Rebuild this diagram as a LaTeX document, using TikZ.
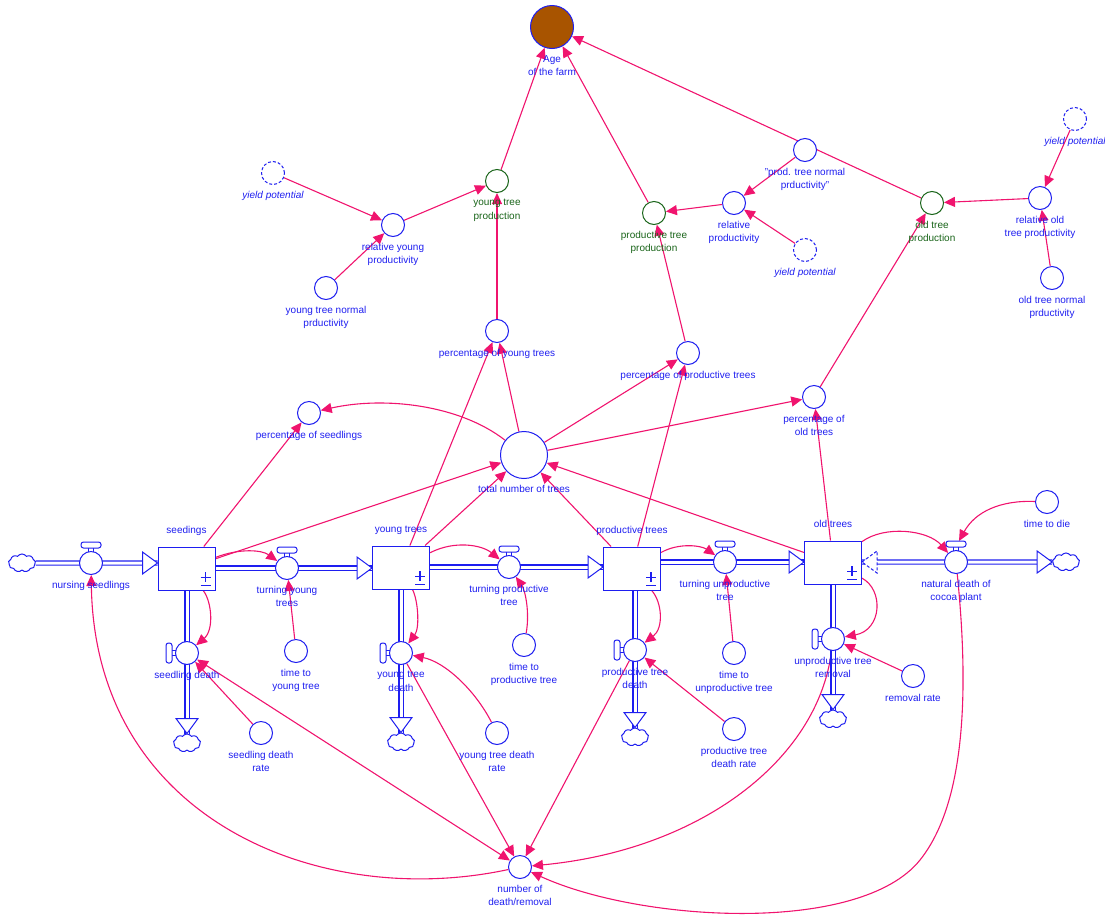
\documentclass[tikz,border=0pt]{standalone}
\usepackage{fontspec}
\setmainfont{Liberation Sans}
\usetikzlibrary{arrows.meta,shapes.symbols}

\definecolor{sfblue}{RGB}{30,30,240}
\definecolor{sfpink}{RGB}{240,20,110}
\definecolor{sfgreen}{RGB}{25,100,25}
\definecolor{sfbrown}{RGB}{168,84,0}

\pgfdeclarelayer{links}
\pgfdeclarelayer{pipes}
\pgfsetlayers{links,pipes,main}

\newcommand\labfont{\fontsize{10}{13.5}\selectfont}

\tikzset{
  lab/.style={font=\labfont, text=sfblue, align=center, inner sep=2pt},
  tag/.style={label={[lab, label distance=4pt]below:#1}},
  gtag/.style={label={[lab, text=sfgreen, label distance=4pt]below:#1}},
  itag/.style={label={[lab, font=\labfont\itshape, label distance=4pt]below:#1}},
  aux/.style={circle, draw=sfblue, line width=1pt, fill=white,
    minimum size=23pt, inner sep=0pt},
  prodaux/.style={aux, draw=sfgreen},
  ghost/.style={aux, dash pattern=on 3pt off 2pt},
  valve/.style={aux},
  stock/.style={rectangle, draw=sfblue, line width=1pt, fill=white,
    minimum width=57pt, minimum height=43pt, inner sep=0pt,
    label={[lab, text depth=2pt, label distance=8.4pt]above:#1}},
  sink/.style={cloud, cloud puffs=9, cloud puff arc=110, aspect=1.6,
    draw=sfblue, line width=1pt, fill=white,
    minimum width=27pt, minimum height=18pt, inner sep=0pt},
  pipe/.style={draw=sfblue, line width=1.1pt, double=white, double distance=3pt},
  conn/.style={draw=sfpink, line width=1.1pt, -{Triangle[length=11pt,width=10pt]}},
  conn2/.style={conn, {Triangle[length=11pt,width=10pt]}-{Triangle[length=11pt,width=10pt]}},
  flowtip/.pic={\draw[sfblue, line width=1pt, fill=white]
    (0,0) -- (-15,-11) -- (-15,11) -- cycle;},
  backtip/.pic={\draw[sfblue, line width=1pt, fill=white, dash pattern=on 3pt off 2pt]
    (0,0) -- (15,-11) -- (15,11) -- cycle;},
  pmsign/.pic={\draw[sfblue, line width=1.1pt]
    (-15,-13.3) -- (-5,-13.3) (-10,-18.3) -- (-10,-8.3) (-15,-5) -- (-5,-5);},
  handletop/.pic={
    \draw[sfblue, line width=1pt] (-2.5,-11.5) -- (-2.5,-15) (2.5,-11.5) -- (2.5,-15);
    \draw[sfblue, line width=1pt, fill=white, rounded corners=2.5pt] (-10,-21) rectangle (10,-15);},
  handleleft/.pic={
    \draw[sfblue, line width=1pt] (-11.5,-2.5) -- (-15,-2.5) (-11.5,2.5) -- (-15,2.5);
    \draw[sfblue, line width=1pt, fill=white, rounded corners=2.5pt] (-21,-10) rectangle (-15,10);},
}

\begin{document}
\begin{tikzpicture}[x=1pt, y=-1pt]
\useasboundingbox (0,0) rectangle (1105,916);

% ---------- stocks ----------
\node[stock=seedings] (seedst) at (186.5,568.5) {};
\node[stock=young trees] (youngst) at (401,567.5) {};
\node[stock=productive trees] (prodst) at (632,568.5) {};
\node[stock=old trees] (oldst) at (833,562.5) {};
\foreach \s in {seedst,youngst,prodst,oldst} \pic at (\s.south east) {pmsign};

% ---------- sources and sinks ----------
\node[sink] (srcL) at (22,563) {};
\node[sink] (sinkS) at (187,743) {};
\node[sink] (sinkY) at (401,742) {};
\node[sink] (sinkP) at (635,737) {};
\node[sink] (sinkO) at (833,719) {};
\node[sink] (sinkN) at (1066,562) {};

% ---------- flow valves ----------
\node[valve, tag={nursing seedlings}] (nurs) at (91,563) {};
\node[valve, tag={turning young\\trees}] (tyt) at (287,568) {};
\node[valve, tag={turning productive\\tree}] (tpt) at (509,567) {};
\node[valve, tag={turning unproductive\\tree}] (tut) at (725,562) {};
\node[valve, tag={natural death of\\cocoa plant}] (ndeath) at (956,562) {};
\node[valve, tag={seedling death}] (sdeath) at (187,653) {};
\node[valve, tag={young tree\\death}] (ydeath) at (401,653) {};
\node[valve, tag={productive tree\\death}] (pdeath) at (635,650) {};
\node[valve, tag={unproductive tree\\removal}] (urem) at (833,639) {};

% ---------- flow parameters ----------
\node[aux, tag={time to\\young tree}] (tyttime) at (296,651) {};
\node[aux, tag={seedling death\\rate}] (sdrate) at (261,733) {};
\node[aux, tag={time to\\productive tree}] (tpttime) at (524,645) {};
\node[aux, tag={young tree death\\rate}] (ydrate) at (497,733) {};
\node[aux, tag={time to\\unproductive tree}] (tuttime) at (734,653) {};
\node[aux, tag={productive tree\\death rate}] (pdrate) at (734,729) {};
\node[aux, tag={removal rate}] (remrate) at (913,676) {};
\node[aux, tag={time to die}] (timedie) at (1047,502) {};
\node[aux, tag={number of\\death/removal}] (num) at (520,867) {};

% ---------- tree shares ----------
\node[aux, minimum size=47pt, tag={total number of trees}] (total) at (524,455) {};
\node[aux, tag={percentage of seedlings}] (pcts) at (309,413) {};
\node[aux, tag={percentage of young trees}] (pcty) at (497,331) {};
\node[aux, tag={percentage of productive trees}] (pctp) at (688,353) {};
\node[aux, tag={percentage of\\old trees}] (pcto) at (814,397) {};

% ---------- production ----------
\node[prodaux, gtag={young tree\\production}] (ytp) at (497,181) {};
\node[prodaux, gtag={productive tree\\production}] (ptp) at (654,213) {};
\node[prodaux, gtag={old tree\\production}] (otp) at (932,203) {};
\node[aux, tag={relative young\\productivity}] (rely) at (393,225) {};
\node[aux, tag={young tree normal\\prductivity}] (ytn) at (326,288) {};
\node[ghost, itag={yield potential}] (ypL) at (273,173) {};
\node[aux, tag={relative\\productivity}] (relp) at (734,203) {};
\node[aux, tag={"prod. tree normal\\prductivity"}] (ptn) at (805,150) {};
\node[ghost, itag={yield potential}] (ypM) at (805,250) {};
\node[aux, tag={relative old\\tree productivity}] (relo) at (1040,198) {};
\node[aux, tag={old tree normal\\prductivity}] (otn) at (1052,278) {};
\node[ghost, itag={yield potential}] (ypR) at (1075,119) {};
\node[aux, fill=sfbrown, minimum size=43pt, tag={Age\\of the farm}] (age) at (552,27) {};

% ---------- valve handles and flow heads ----------
\foreach \v in {nurs,tyt,tpt,tut,ndeath} \pic at (\v) {handletop};
\foreach \v in {sdeath,ydeath,pdeath,urem} \pic at (\v) {handleleft};
\path (ndeath) ++(3,-21) coordinate (ndhandle);

\pic at (seedst.west |- nurs) {flowtip};
\pic at (youngst.west |- tyt) {flowtip};
\pic at (prodst.west |- tpt) {flowtip};
\pic at (oldst.west |- tut) {flowtip};
\pic at (oldst.east |- ndeath) {backtip};
\pic at (sinkN.west) {flowtip};
\pic[rotate=-90] at (sinkS.north) {flowtip};
\pic[rotate=-90] at (sinkY.north) {flowtip};
\pic[rotate=-90] at (sinkP.north) {flowtip};
\pic[rotate=-90] at (sinkO.north) {flowtip};

% ---------- pipes ----------
\begin{pgfonlayer}{pipes}
\draw[pipe] (srcL.east) -- (seedst.west |- nurs);
\draw[pipe] (seedst.east |- tyt) -- (youngst.west |- tyt);
\draw[pipe] (youngst.east |- tpt) -- (prodst.west |- tpt);
\draw[pipe] (prodst.east |- tut) -- (oldst.west |- tut);
\draw[pipe] (oldst.east |- ndeath) -- (sinkN.west);
\draw[pipe] (seedst.south -| sdeath) -- (sinkS.north);
\draw[pipe] (youngst.south -| ydeath) -- (sinkY.north);
\draw[pipe] (prodst.south -| pdeath) -- (sinkP.north);
\draw[pipe] (oldst.south -| urem) -- (sinkO.north);
\end{pgfonlayer}

% ---------- information links ----------
\begin{pgfonlayer}{links}
\draw[conn] (ytp) -- (age);
\draw[conn] (ptp) -- (age);
\draw[conn] (otp) -- (age);
\draw[conn] (ypL) -- (rely);
\draw[conn] (ytn) -- (rely);
\draw[conn] (rely) -- (ytp);
\draw[conn] (pcty) -- (ytp);
\draw[conn] (ptn) -- (relp);
\draw[conn] (ypM) -- (relp);
\draw[conn] (relp) -- (ptp);
\draw[conn] (pctp) -- (ptp);
\draw[conn] (relo) -- (otp);
\draw[conn] (ypR) -- (relo);
\draw[conn] (otn) -- (relo);
\draw[conn] (pcto) -- (otp);

\draw[conn] (seedst) -- (pcts);
\draw[conn] (total) -- (pcty);
\draw[conn] (youngst) -- (pcty);
\draw[conn] (total) -- (pctp);
\draw[conn] (prodst) -- (pctp);
\draw[conn] (total) -- (pcto);
\draw[conn] (oldst) -- (pcto);
\draw[conn] (seedst) -- (total);
\draw[conn] (youngst) -- (total);
\draw[conn] (prodst) -- (total);
\draw[conn] (oldst) -- (total);
\draw[conn] (total) .. controls (460,405) and (385,396) .. (pcts);

\draw[conn] (seedst) .. controls (240,548) and (262,550) .. (tyt);
\draw[conn] (seedst) .. controls (212,602) and (214,630) .. (sdeath);
\draw[conn] (tyttime) -- (tyt);
\draw[conn] (sdrate) -- (sdeath);
\draw[conn2] (sdeath) -- (num);

\draw[conn] (youngst) .. controls (455,540) and (482,545) .. (tpt);
\draw[conn] (youngst) .. controls (418,600) and (420,628) .. (ydeath);
\draw[conn] (tpttime) .. controls (530,612) and (525,590) .. (tpt);
\draw[conn] (ydrate) .. controls (475,690) and (445,662) .. (ydeath);
\draw[conn] (ydeath) -- (num);

\draw[conn] (prodst) .. controls (680,542) and (702,546) .. (tut);
\draw[conn] (prodst) .. controls (662,602) and (664,628) .. (pdeath);
\draw[conn] (tuttime) -- (tut);
\draw[conn] (pdrate) -- (pdeath);
\draw[conn] (pdeath) -- (num);

\draw[conn] (oldst) .. controls (885,525) and (928,530) .. (ndeath);
\draw[conn] (oldst) .. controls (884,590) and (882,630) .. (urem);
\draw[conn] (remrate) -- (urem);
\draw[conn] (timedie) .. controls (1000,500) and (975,512) .. (ndhandle);

\draw[conn] (num) .. controls (320,910) and (95,820) .. (nurs);
\draw[conn] (urem) .. controls (818,760) and (700,850) .. (num);
\draw[conn] (ndeath) .. controls (968,680) and (968,800) .. (920,860)
  .. controls (860,935) and (640,922) .. (num);
\end{pgfonlayer}
\end{tikzpicture}
\end{document}
